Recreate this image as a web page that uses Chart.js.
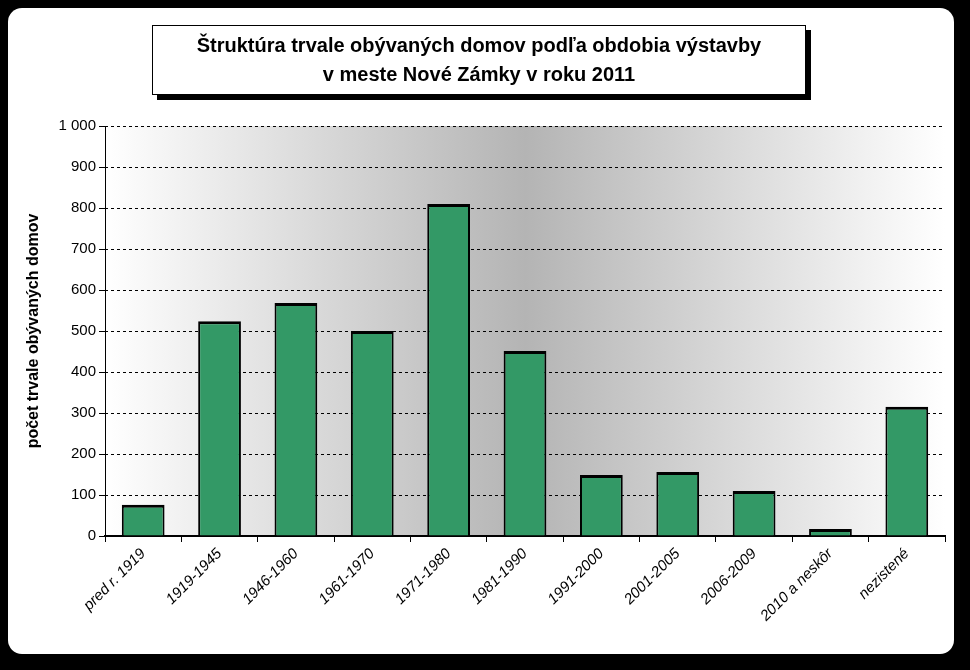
<!DOCTYPE html>
<html><head><meta charset="utf-8">
<script src="https://cdn.jsdelivr.net/npm/chart.js@4"></script>
<style>
html,body{margin:0;padding:0;background:#000;}
#panel{position:absolute;left:8px;top:8px;width:946px;height:646px;background:#fff;border-radius:14px;}
#title{position:absolute;left:152px;top:25px;width:654px;height:70px;border:1px solid #000;background:#fff;box-shadow:5px 5px 0 #000;font:bold 20px "Liberation Sans",Arial,sans-serif;text-align:center;line-height:29px;padding-top:5px;box-sizing:border-box;z-index:2}
#wrap{position:absolute;left:0;top:0;width:970px;height:670px;}
</style></head><body>
<div id="panel"></div>
<div id="title">Štruktúra trvale obývaných domov podľa obdobia výstavby<br>v meste Nové Zámky v roku 2011</div>
<div id="wrap"><canvas id="c" width="970" height="670"></canvas></div>
<script>
const categories=["pred r. 1919","1919-1945","1946-1960","1961-1970","1971-1980","1981-1990","1991-2000","2001-2005","2006-2009","2010 a neskôr","nezistené"];
const values=[76,524,568,500,810,451,149,156,110,17,315];
const yTicks=[0,100,200,300,400,500,600,700,800,900,1000];
const bg={id:'bg',beforeDraw(ch){const a=ch.chartArea,c=ch.ctx;const g=c.createLinearGradient(a.left,0,a.right,0);g.addColorStop(0,'#ffffff');g.addColorStop(0.5,'#b4b4b4');g.addColorStop(1,'#ffffff');c.save();c.fillStyle=g;c.fillRect(a.left,a.top,a.right-a.left,a.bottom-a.top);c.restore();}};
new Chart(document.getElementById('c'),{type:'bar',data:{labels:categories,datasets:[{data:values,backgroundColor:'#339966',borderColor:'#000',borderWidth:{top:3,left:2,right:2,bottom:0},categoryPercentage:1,barPercentage:0.56}]},
options:{responsive:false,animation:false,layout:{padding:{left:20,right:25,top:126,bottom:20}},
plugins:{legend:{display:false},tooltip:{enabled:false}},
scales:{x:{grid:{display:true,drawOnChartArea:false,color:'#000',tickLength:6,offset:true},border:{color:'#000',width:2},
afterFit(s){s.height=114;},
ticks:{color:'#000',maxRotation:45,minRotation:45,font:{family:'"Liberation Sans",Arial',size:15,style:'italic'}}},
y:{min:0,max:1000,afterBuildTicks(s){s.ticks=yTicks.map(v=>({value:v}));},afterFit(s){s.width=85;},
grid:{color:'#000',tickLength:6,drawOnChartArea:false},border:{color:'#000',width:1},
ticks:{color:'#000',font:{family:'"Liberation Sans",Arial',size:15},callback:v=>v===1000?'1 000':v},
title:{display:true,text:'počet trvale obývaných domov',color:'#000',font:{family:'"Liberation Sans",Arial',size:16,weight:'bold'}}}}},
plugins:[bg,{id:'dash',beforeDatasetsDraw(ch){const y=ch.scales.y,a=ch.chartArea,c=ch.ctx;c.save();c.strokeStyle='#000';c.lineWidth=1;c.setLineDash([3,3]);yTicks.slice(1).forEach(v=>{const p=Math.round(y.getPixelForValue(v))+0.5;c.beginPath();c.moveTo(a.left,p);c.lineTo(a.right,p);c.stroke();});c.restore();}}]});
</script>
</body></html>
